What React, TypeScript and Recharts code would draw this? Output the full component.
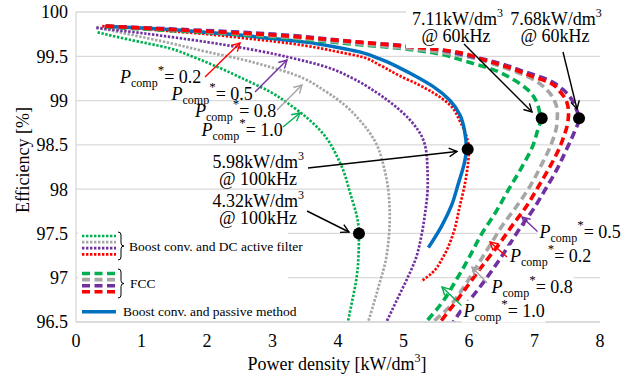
import React from 'react';
import {
  ComposedChart, Line, XAxis, YAxis, CartesianGrid, ReferenceDot,
} from 'recharts';

type Pt = [number, number];

// power density [kW/dm3], efficiency [%]
const passive: Pt[] = [
  [0.44, 99.84], [1.0, 99.82], [1.5, 99.8], [2.0, 99.77], [2.5, 99.74], [3.0, 99.7],
  [3.5, 99.66], [4.0, 99.6], [4.33, 99.55], [4.64, 99.47], [4.94, 99.37], [5.2, 99.27],
  [5.45, 99.16], [5.71, 99.0], [5.86, 98.84], [5.93, 98.67], [5.96, 98.45], [5.93, 98.3],
  [5.84, 98.07], [5.73, 97.81], [5.58, 97.58], [5.38, 97.34],
];

const filter10: Pt[] = [
  [0.33, 99.77], [0.8, 99.69], [1.43, 99.59], [1.8, 99.49], [2.19, 99.37], [2.6, 99.23],
  [2.96, 99.1], [3.31, 98.93], [3.72, 98.67], [4.03, 98.3], [4.2, 97.92], [4.3, 97.65],
  [4.32, 97.5], [4.31, 97.2], [4.28, 96.98], [4.22, 96.75], [4.15, 96.5],
];
const filter08: Pt[] = [
  [0.31, 99.83], [0.8, 99.75], [1.43, 99.65], [2.0, 99.55], [2.5, 99.47], [2.96, 99.38],
  [3.31, 99.3], [3.82, 99.1], [4.1, 98.95], [4.33, 98.78], [4.55, 98.56], [4.71, 98.22],
  [4.78, 97.9], [4.79, 97.7], [4.74, 97.24], [4.62, 96.9], [4.46, 96.5],
];
const filter05: Pt[] = [
  [0.31, 99.82], [0.8, 99.78], [1.43, 99.72], [2.0, 99.66], [2.8, 99.56], [3.3, 99.48],
  [3.82, 99.38], [4.2, 99.26], [4.59, 99.09], [4.9, 98.92], [5.1, 98.78], [5.3, 98.56],
  [5.36, 98.33], [5.37, 98.05], [5.33, 97.73], [5.28, 97.5], [5.18, 97.2], [5.05, 96.98],
  [4.9, 96.75], [4.74, 96.5],
];
const filter02: Pt[] = [
  [0.4, 99.84], [1.0, 99.81], [1.5, 99.78], [2.0, 99.75], [2.5, 99.71], [3.0, 99.67],
  [3.5, 99.62], [4.0, 99.55], [4.33, 99.5], [4.64, 99.4], [4.94, 99.28], [5.2, 99.19],
  [5.45, 99.09], [5.71, 98.95], [5.86, 98.77], [5.96, 98.6], [6.0, 98.45], [5.99, 98.33],
  [5.94, 98.07], [5.86, 97.81], [5.76, 97.5], [5.61, 97.24], [5.43, 97.05], [5.27, 96.96],
];

const fcc10: Pt[] = [
  [0.46, 99.83], [2.8, 99.73], [4.33, 99.63], [4.94, 99.59], [5.45, 99.54], [5.96, 99.44],
  [6.37, 99.35], [6.67, 99.24], [6.9, 99.12], [7.03, 98.99], [7.08, 98.86], [7.1, 98.8],
  [7.05, 98.67], [6.98, 98.5], [6.8, 98.24], [6.6, 97.99], [6.4, 97.73], [6.19, 97.49],
  [6.01, 97.24], [5.81, 96.98], [5.58, 96.71], [5.33, 96.49],
];
const fcc08: Pt[] = [
  [0.46, 99.84], [2.8, 99.74], [4.33, 99.64], [5.3, 99.57], [5.86, 99.51], [6.5, 99.38],
  [6.98, 99.24], [7.19, 99.12], [7.31, 98.99], [7.35, 98.86], [7.34, 98.72], [7.3, 98.6],
  [7.24, 98.48], [7.11, 98.28], [6.93, 98.03], [6.73, 97.81], [6.52, 97.6], [6.34, 97.39],
  [6.12, 97.13], [5.89, 96.86], [5.66, 96.64], [5.43, 96.49],
];
const fcc05: Pt[] = [
  [0.46, 99.84], [2.8, 99.76], [4.33, 99.66], [5.3, 99.6], [5.9, 99.52], [6.47, 99.42],
  [6.83, 99.33], [7.19, 99.24], [7.44, 99.12], [7.57, 99.01], [7.64, 98.9], [7.68, 98.8],
  [7.6, 98.63], [7.49, 98.45], [7.34, 98.22], [7.16, 97.99], [6.98, 97.77], [6.78, 97.56],
  [6.57, 97.32], [6.34, 97.07], [6.12, 96.85], [5.89, 96.64], [5.76, 96.5],
];
const fcc02: Pt[] = [
  [0.46, 99.84], [1.5, 99.8], [2.8, 99.75], [4.0, 99.68], [4.94, 99.62], [5.71, 99.56],
  [6.22, 99.46], [6.62, 99.37], [6.98, 99.27], [7.24, 99.2], [7.39, 99.1], [7.49, 98.99],
  [7.52, 98.86], [7.5, 98.72], [7.45, 98.6], [7.39, 98.48], [7.24, 98.26], [7.06, 98.03],
  [6.88, 97.81], [6.67, 97.6], [6.47, 97.39], [6.24, 97.17], [6.01, 96.94], [5.78, 96.71],
  [5.55, 96.49],
];

const markers: Pt[] = [[4.32, 97.5], [5.98, 98.45], [7.11, 98.8], [7.68, 98.8]];
const markerLabels = ['4.32', '5.98', '7.11', '7.68'];
const markerFreqs = ['@ 100kHz', '@ 100kHz', '@ 60kHz', '@ 60kHz'];
const pcompValues = ['0.2', '0.5', '0.8', '1.0'];

const xTicks = [0, 1, 2, 3, 4, 5, 6, 7, 8];
const yTicks = [96.5, 97, 97.5, 98, 98.5, 99, 99.5, 100];

const GREEN = '#00B050';
const GRAY = '#A6A6A6';
const PURPLE = '#7030A0';
const RED = '#FF0000';
const BLUE = '#0070C0';
const GRID = '#D9D9D9';
const FONT = "'Liberation Serif', 'Times New Roman', serif";

const rows = (pts: Pt[]) => pts.map(([x, y]) => ({ x, y }));

const DOT = '2.4 1.6';
const DASH = '8 4.5';

function Arrow({ x1, y1, x2, y2, color = '#000' }: { x1: number; y1: number; x2: number; y2: number; color?: string }) {
  const a = Math.atan2(y2 - y1, x2 - x1);
  const L = 9;
  const p1 = [x2 - L * Math.cos(a - 0.5), y2 - L * Math.sin(a - 0.5)];
  const p2 = [x2 - L * Math.cos(a + 0.5), y2 - L * Math.sin(a + 0.5)];
  return (
    <g stroke={color} strokeWidth={1.4} fill="none">
      <line x1={x1} y1={y1} x2={x2} y2={y2} />
      <polyline points={`${p1[0]},${p1[1]} ${x2},${y2} ${p2[0]},${p2[1]}`} />
    </g>
  );
}

function PLabel({ x, y, value, box }: { x: number; y: number; value: string; box?: boolean }) {
  return (
    <g>
      {box && <rect x={x - 2} y={y - 16} width={84} height={22} fill="#fff" />}
      <text x={x} y={y} fontSize={18} fontFamily={FONT} fill="#000">
        <tspan fontStyle="italic">P</tspan>
        <tspan fontSize={12} dy={4}>comp</tspan>
        <tspan fontSize={13} dy={-13}>*</tspan>
        <tspan dy={9}>= {value}</tspan>
      </text>
    </g>
  );
}

function Density({ x, y, value, anchor }: { x: number; y: number; value: string; anchor: 'end' | 'middle' }) {
  return (
    <text x={x} y={y} fontSize={18} fontFamily={FONT} textAnchor={anchor} fill="#000">
      {value}kW/dm<tspan fontSize={12} dy={-8}>3</tspan>
    </text>
  );
}

function Brace({ x, y1, y2 }: { x: number; y1: number; y2: number }) {
  const m = (y1 + y2) / 2;
  return (
    <path
      d={`M${x} ${y1} Q${x + 3} ${y1} ${x + 3} ${y1 + 3} L${x + 3} ${m - 3} Q${x + 3} ${m} ${x + 6} ${m} Q${x + 3} ${m} ${x + 3} ${m + 3} L${x + 3} ${y2 - 3} Q${x + 3} ${y2} ${x} ${y2}`}
      stroke="#000" strokeWidth={1} fill="none"
    />
  );
}

export default function App() {
  const dotted = [
    { pts: filter10, c: GREEN },
    { pts: filter08, c: GRAY },
    { pts: filter05, c: PURPLE },
    { pts: filter02, c: RED },
  ];
  const dashed = [
    { pts: fcc10, c: GREEN },
    { pts: fcc08, c: GRAY },
    { pts: fcc05, c: PURPLE },
    { pts: fcc02, c: RED },
  ];
  const legendColors = [GREEN, GRAY, PURPLE, RED];

  return (
    <div style={{ position: 'relative', width: 640, height: 379, background: '#fff' }}>
      <style>{'body{margin:0}'}</style>
      <ComposedChart width={640} height={379} margin={{ top: 12, right: 40, left: 0, bottom: 0 }}>
        <CartesianGrid vertical={false} stroke={GRID} strokeWidth={1.3} />
        <XAxis
          type="number" dataKey="x" domain={[0, 8]} ticks={xTicks} allowDataOverflow
          height={57} tickSize={0} tickMargin={12} tickLine={false}
          axisLine={{ stroke: GRID, strokeWidth: 1.3 }}
          tick={{ fontSize: 18, fill: '#000', fontFamily: FONT }}
        />
        <YAxis
          type="number" domain={[96.5, 100]} ticks={yTicks} allowDataOverflow
          width={76} tickSize={0} tickMargin={8} tickLine={false}
          axisLine={{ stroke: GRID, strokeWidth: 1.3 }}
          tick={{ fontSize: 18, fill: '#000', fontFamily: FONT }}
        />
        {dotted.map((s, i) => (
          <Line key={`d${i}`} data={rows(s.pts)} dataKey="y" type="monotoneY" stroke={s.c}
            strokeWidth={2.7} strokeDasharray={DOT} dot={false} isAnimationActive={false} />
        ))}
        <Line data={rows(passive)} dataKey="y" type="monotoneY" stroke={BLUE}
          strokeWidth={3.5} dot={false} isAnimationActive={false} />
        {dashed.map((s, i) => (
          <Line key={`f${i}`} data={rows(s.pts)} dataKey="y" type="monotoneY" stroke={s.c}
            strokeWidth={3.6} strokeDasharray={DASH} dot={false} isAnimationActive={false} />
        ))}
        {markers.map(([x, y], i) => (
          <ReferenceDot key={`m${i}`} x={x} y={y} r={6} fill="#000" stroke="none" />
        ))}
      </ComposedChart>

      <svg width={640} height={379} style={{ position: 'absolute', left: 0, top: 0, pointerEvents: 'none' }}>
        {/* axis titles */}
        <text x={337} y={370} fontSize={18} fontFamily={FONT} textAnchor="middle" fill="#000">
          Power density [kW/dm<tspan fontSize={12} dy={-8}>3</tspan><tspan dy={8}>]</tspan>
        </text>
        <text x={23} y={160} dy="0.35em" fontSize={18} fontFamily={FONT} textAnchor="middle" fill="#000"
          transform="rotate(-90 23 160)">
          Efficiency [%]
        </text>

        {/* legend */}
        <rect x={78} y={226} width={210} height={94} fill="#fff" />
        {legendColors.map((c, i) => (
          <line key={`ld${i}`} x1={82} x2={116} y1={236 + i * 6.1} y2={236 + i * 6.1}
            stroke={c} strokeWidth={2.7} strokeDasharray={DOT} />
        ))}
        <Brace x={118} y1={232} y2={260} />
        <text x={129} y={250.5} fontSize={13.5} fontFamily={FONT} fill="#000">Boost conv. and DC active filter</text>
        {legendColors.map((c, i) => (
          <line key={`lf${i}`} x1={82} x2={116} y1={273.5 + i * 6.1} y2={273.5 + i * 6.1}
            stroke={c} strokeWidth={3.6} strokeDasharray={DASH} />
        ))}
        <Brace x={118} y1={269} y2={298} />
        <text x={130} y={288} fontSize={13.5} fontFamily={FONT} fill="#000">FCC</text>
        <line x1={82} x2={116} y1={311.7} y2={311.7} stroke={BLUE} strokeWidth={3.5} />
        <text x={123} y={316.3} fontSize={13.5} fontFamily={FONT} fill="#000">Boost conv. and passive method</text>

        {/* marker annotations */}
        <rect x={406} y={4} width={200} height={44} fill="#fff" />
        <Density x={304} y={168} value={markerLabels[1]} anchor="end" />
        <text x={297} y={185} fontSize={18} fontFamily={FONT} textAnchor="end" fill="#000">{markerFreqs[1]}</text>
        <Arrow x1={308} y1={168} x2={457} y2={151.5} />
        <Density x={304} y={206.5} value={markerLabels[0]} anchor="end" />
        <text x={297} y={224} fontSize={18} fontFamily={FONT} textAnchor="end" fill="#000">{markerFreqs[0]}</text>
        <Arrow x1={307} y1={211} x2={349} y2={232} />
        <Density x={457.5} y={25} value={markerLabels[2]} anchor="middle" />
        <text x={456} y={42} fontSize={18} fontFamily={FONT} textAnchor="middle" fill="#000">{markerFreqs[2]}</text>
        <Arrow x1={464} y1={44} x2={532} y2={112} />
        <Density x={556} y={25} value={markerLabels[3]} anchor="middle" />
        <text x={555} y={42} fontSize={18} fontFamily={FONT} textAnchor="middle" fill="#000">{markerFreqs[3]}</text>
        <Arrow x1={563} y1={52} x2={577} y2={109} />

        {/* Pcomp labels, DC active filter */}
        <Arrow x1={205} y1={77} x2={240} y2={43} color={RED} />
        <Arrow x1={255} y1={92} x2={287} y2={60} color={PURPLE} />
        <Arrow x1={277} y1={110} x2={302} y2={85} color={GRAY} />
        <Arrow x1={283} y1={127} x2={300} y2={113} color={GREEN} />
        <PLabel x={120} y={83} value={pcompValues[0]} />
        <PLabel x={171.5} y={100} value={pcompValues[1]} />
        <PLabel x={195} y={116.5} value={pcompValues[2]} />
        <PLabel x={201.5} y={136} value={pcompValues[3]} />

        {/* Pcomp labels, FCC */}
        <Arrow x1={538} y1={232} x2={522} y2={217} color={PURPLE} />
        <Arrow x1={507} y1={257} x2={490} y2={242} color={RED} />
        <Arrow x1={487} y1={283} x2={472} y2={267} color={GRAY} />
        <Arrow x1={462} y1={306} x2={442} y2={287} color={GREEN} />
        <PLabel x={539.5} y={238} value={pcompValues[1]} box />
        <PLabel x={510} y={261.5} value={pcompValues[0]} box />
        <PLabel x={491.5} y={293} value={pcompValues[2]} box />
        <PLabel x={463.5} y={316.5} value={pcompValues[3]} box />
      </svg>
    </div>
  );
}
